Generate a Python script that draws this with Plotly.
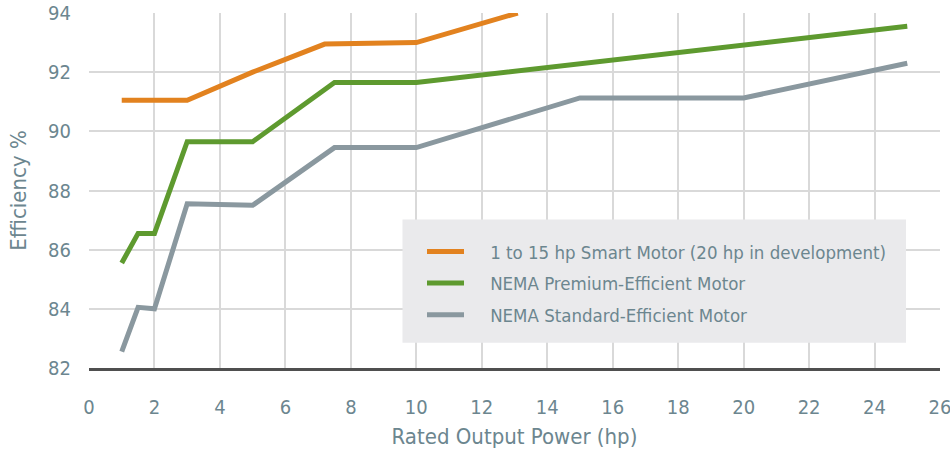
import plotly.graph_objects as go

# ---- data ----
smart_hp = [1, 3, 5, 7.2, 10, 13.1]
smart_eff = [91.05, 91.05, 92.0, 92.95, 93.0, 94.0]

premium_hp = [1, 1.5, 2, 3, 5, 7.5, 10, 25]
premium_eff = [85.55, 86.55, 86.55, 89.65, 89.65, 91.65, 91.65, 93.55]

standard_hp = [1, 1.5, 2, 3, 5, 7.5, 10, 15, 20, 25]
standard_eff = [82.55, 84.05, 84.0, 87.55, 87.5, 89.45, 89.45, 91.13, 91.13, 92.3]

series_names = [
    "1 to 15 hp Smart Motor (20 hp in development)",
    "NEMA Premium-Efficient Motor",
    "NEMA Standard-Efficient Motor",
]
series_colors = ["#E2821F", "#5E9A2F", "#8A989F"]

x_ticks = list(range(0, 27, 2))
y_ticks = list(range(82, 95, 2))

FONT = "DejaVu Sans Condensed, Liberation Sans Narrow, sans-serif"
TXT = "#6C868F"
GAP = "\u00a0" * 4

fig = go.Figure()
for i, (xs, ys, name, col) in enumerate(zip(
    [smart_hp, premium_hp, standard_hp],
    [smart_eff, premium_eff, standard_eff],
    series_names,
    series_colors,
)):
    fig.add_trace(go.Scatter(x=xs, y=ys, mode="lines", name=GAP + name,
                             legendgroup=f"g{i}",
                             line=dict(color=col, width=5)))

W, H = 950, 453
L, R, T, B = 89, 940, 13, 368
def px_x(p): return (p - L) / (R - L)
def px_y(p): return (B - p) / (B - T)

fig.add_shape(type="rect", xref="paper", yref="paper",
              x0=px_x(402.5), x1=px_x(906), y0=px_y(342.7), y1=px_y(219.5),
              fillcolor="#EAEAEC", line=dict(width=0), layer="above")

fig.update_layout(
    width=W, height=H,
    margin=dict(l=L, r=W - R, t=T, b=H - B),
    paper_bgcolor="white", plot_bgcolor="white",
    font=dict(family=FONT, color=TXT, size=22),
    showlegend=True,
    legend=dict(x=px_x(422), y=px_y(233), xanchor="left", yanchor="top",
                bgcolor="rgba(0,0,0,0)", font=dict(size=18.5, color=TXT, family=FONT),
                itemwidth=37, tracegroupgap=4.5, traceorder="grouped"),
    xaxis=dict(range=[0, 26], tickvals=x_ticks, ticktext=[str(v) for v in x_ticks],
               showgrid=True, gridcolor="#D9D9D9", gridwidth=1.5, zeroline=False,
               showline=True, linecolor="#4F4F4F", linewidth=3,
               ticks="", ticklabelstandoff=19, ticklabeloverflow="allow",
               automargin=False,
               tickfont=dict(size=20, color=TXT),
               title=dict(text="Rated Output Power (hp)", font=dict(size=22, color=TXT),
                          standoff=11)),
    yaxis=dict(range=[82, 94], tickvals=y_ticks, ticktext=[str(v) for v in y_ticks],
               showgrid=True, gridcolor="#D9D9D9", gridwidth=1.5, zeroline=False,
               showline=False, ticks="", ticklabelstandoff=17, ticklabeloverflow="allow",
               automargin=False,
               tickfont=dict(size=20, color=TXT),
               title=dict(text="Efficiency %", font=dict(size=22, color=TXT),
                          standoff=15)),
)

fig.write_html(
    "out.html",
    config={"displayModeBar": False},
    post_script="document.body.style.margin='0';document.body.style.overflow='hidden';",
)
